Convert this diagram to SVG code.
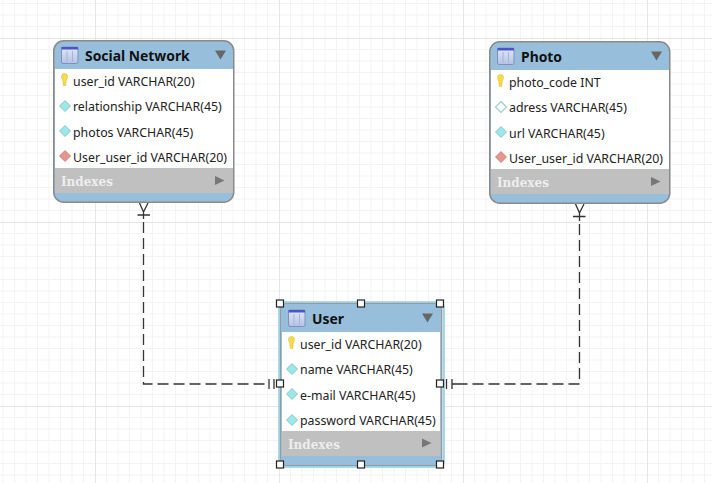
<svg xmlns="http://www.w3.org/2000/svg" width="712" height="483" viewBox="0 0 712 483">
<style>
text{font-family:"Noto Sans","DejaVu Sans",sans-serif;font-size:12.35px;fill:#222}
.t{font-family:"Noto Sans","DejaVu Sans",sans-serif;font-weight:700;font-size:13.9px;fill:#111}
.i{font-family:"DejaVu Serif",serif;font-weight:700;font-size:12px;fill:#eee}
.body{fill:#97bfdb;stroke:#8a8a8a;stroke-width:1.5}
.gm{stroke:#f3f3f3;stroke-width:1;fill:none}
.gM{stroke:#e6e6e6;stroke-width:1;fill:none}
.con{stroke:#333;stroke-width:1.3;fill:none}
.dash{stroke-dasharray:11 5}
.k{fill:#f7dc4a;stroke:#d4b030;stroke-width:.5}
.d1{fill:#9ce8e8;stroke:#7fb8b8;stroke-width:.8}
.d2{fill:#fff;stroke:#9ccccc;stroke-width:1.2}
.d3{fill:#e8968c;stroke:#b87a72;stroke-width:.8}
.h{fill:#fff;stroke:#222;stroke-width:1.2}
</style>
<defs>
<pattern id="g" width="184" height="184" patternUnits="userSpaceOnUse" x="95" y="38">
<path class="gm" d="M11.5 0V184M23 0V184M34.5 0V184M46 0V184M57.5 0V184M69 0V184M80.5 0V184M92 0V184M103.5 0V184M115 0V184M126.5 0V184M138 0V184M149.5 0V184M161 0V184M172.5 0V184M0 11.5H184M0 23H184M0 34.5H184M0 46H184M0 57.5H184M0 69H184M0 80.5H184M0 92H184M0 103.5H184M0 115H184M0 126.5H184M0 138H184M0 149.5H184M0 161H184M0 172.5H184"/>
<path class="gM" d="M.5 0V184M0 .5H184"/>
</pattern>
<linearGradient id="ig" x1="0" y1="0" x2="0" y2="1"><stop offset="0" stop-color="#e2e8f6"/><stop offset="1" stop-color="#b4c2e4"/></linearGradient>
<g id="icon"><rect x="0" y="0" width="16.500" height="16.500" rx="1.500" fill="url(#ig)" stroke="#8090bc"/><rect x="0" y="0" width="16.500" height="2.500" fill="#4a55c8"/><path d="M5.500 4V15M11 4V15" stroke="#a5b4da"/></g>
<path id="key" class="k" d="M-3 -3.500A3 3 0 0 1 3 -3.500C3 -1.500 2 -1 1.600 1L1.200 5.500H-1.200L-1.600 1C-2 -1 -3 -1.500 -3 -3.500Z"/>
<path id="dia" d="M0 -5.500L5.500 0L0 5.500L-5.500 0Z"/>
<path id="down" d="M-5.500 -4.500H5.500L0 4.500Z" fill="#666"/>
<path id="right" d="M-5 -4.500L4.500 0L-5 4.500Z" fill="#777"/>
</defs>
<rect width="712" height="483" fill="#fff"/>
<rect width="712" height="483" fill="url(#g)"/>
<g id="connectors">
<path class="con dash" d="M143.500 222V384H269"/>
<path class="con" d="M137.500 215H150M143.500 211V219M143.500 212L139.500 203M143.500 212L148 203"/>
<path class="con" d="M269 379V389M274 379V389"/>
<path class="con dash" d="M579.500 224V384H463"/>
<path class="con" d="M573 216.500H585.500M579.500 212V221M579.500 213L575.500 204M579.500 213L584 204"/>
<path class="con" d="M446.500 379V389M452 379V389M452 384H463"/>
</g>
<g id="social-network">
<rect class="body" x="53.750" y="40.750" width="180" height="161.500" rx="10"/>
<rect x="55" y="69" width="178" height="99" fill="#fff"/>
<rect x="55" y="168" width="178" height="25" fill="#c0c0c0"/>
<use href="#icon" x="61.500" y="47"/>
<text class="t" x="85" y="61">Social Network</text>
<use href="#down" x="220.500" y="55"/>
<use href="#key" x="64.500" y="80"/><text x="73" y="86">user_id VARCHAR(20)</text>
<use href="#dia" class="d1" x="65" y="106"/><text x="73" y="111">relationship VARCHAR(45)</text>
<use href="#dia" class="d1" x="65" y="131"/><text x="73" y="137">photos VARCHAR(45)</text>
<use href="#dia" class="d3" x="65" y="156"/><text x="73" y="162">User_user_id VARCHAR(20)</text>
<text class="i" x="61" y="186">Indexes</text>
<use href="#right" x="220" y="180.500"/>
</g>
<g id="photo">
<rect class="body" x="489.750" y="41.750" width="180" height="161.500" rx="10"/>
<rect x="491" y="70" width="178" height="99" fill="#fff"/>
<rect x="491" y="169" width="178" height="25" fill="#c0c0c0"/>
<use href="#icon" x="497.500" y="48"/>
<text class="t" x="521" y="62">Photo</text>
<use href="#down" x="656.500" y="56"/>
<use href="#key" x="500.500" y="81"/><text x="509" y="87">photo_code INT</text>
<use href="#dia" class="d2" x="501" y="107"/><text x="509" y="112">adress VARCHAR(45)</text>
<use href="#dia" class="d1" x="501" y="132"/><text x="509" y="138">url VARCHAR(45)</text>
<use href="#dia" class="d3" x="501" y="157"/><text x="509" y="163">User_user_id VARCHAR(20)</text>
<text class="i" x="497" y="187">Indexes</text>
<use href="#right" x="656" y="181.500"/>
</g>
<g id="user">
<rect x="279" y="302" width="165" height="165" rx="5" fill="#d6d6d6" stroke="#8fd0e8" stroke-width="1.500"/>
<rect x="280.500" y="303.500" width="161" height="162" rx="6" fill="#97bfdb" stroke="#9a9a9a"/>
<rect x="282" y="332" width="158" height="99" fill="#fff"/>
<rect x="282" y="431" width="158" height="25" fill="#c0c0c0"/>
<use href="#icon" x="288.500" y="310"/>
<text class="t" x="312" y="324">User</text>
<use href="#down" x="427.500" y="318"/>
<use href="#key" x="291.500" y="343"/><text x="300" y="349">user_id VARCHAR(20)</text>
<use href="#dia" class="d1" x="292" y="369"/><text x="300" y="374">name VARCHAR(45)</text>
<use href="#dia" class="d1" x="292" y="394"/><text x="300" y="400">e-mail VARCHAR(45)</text>
<use href="#dia" class="d1" x="292" y="420"/><text x="300" y="425">password VARCHAR(45)</text>
<text class="i" x="288" y="449">Indexes</text>
<use href="#right" x="427" y="443"/>
<rect class="h" x="276.500" y="300" width="7" height="7"/><rect class="h" x="357.500" y="300" width="7" height="7"/><rect class="h" x="436.500" y="300" width="7" height="7"/>
<rect class="h" x="276.500" y="380" width="7" height="7"/><rect class="h" x="436.500" y="380" width="7" height="7"/>
<rect class="h" x="276.500" y="461" width="7" height="7"/><rect class="h" x="357.500" y="461" width="7" height="7"/><rect class="h" x="436.500" y="461" width="7" height="7"/>
</g>
</svg>
